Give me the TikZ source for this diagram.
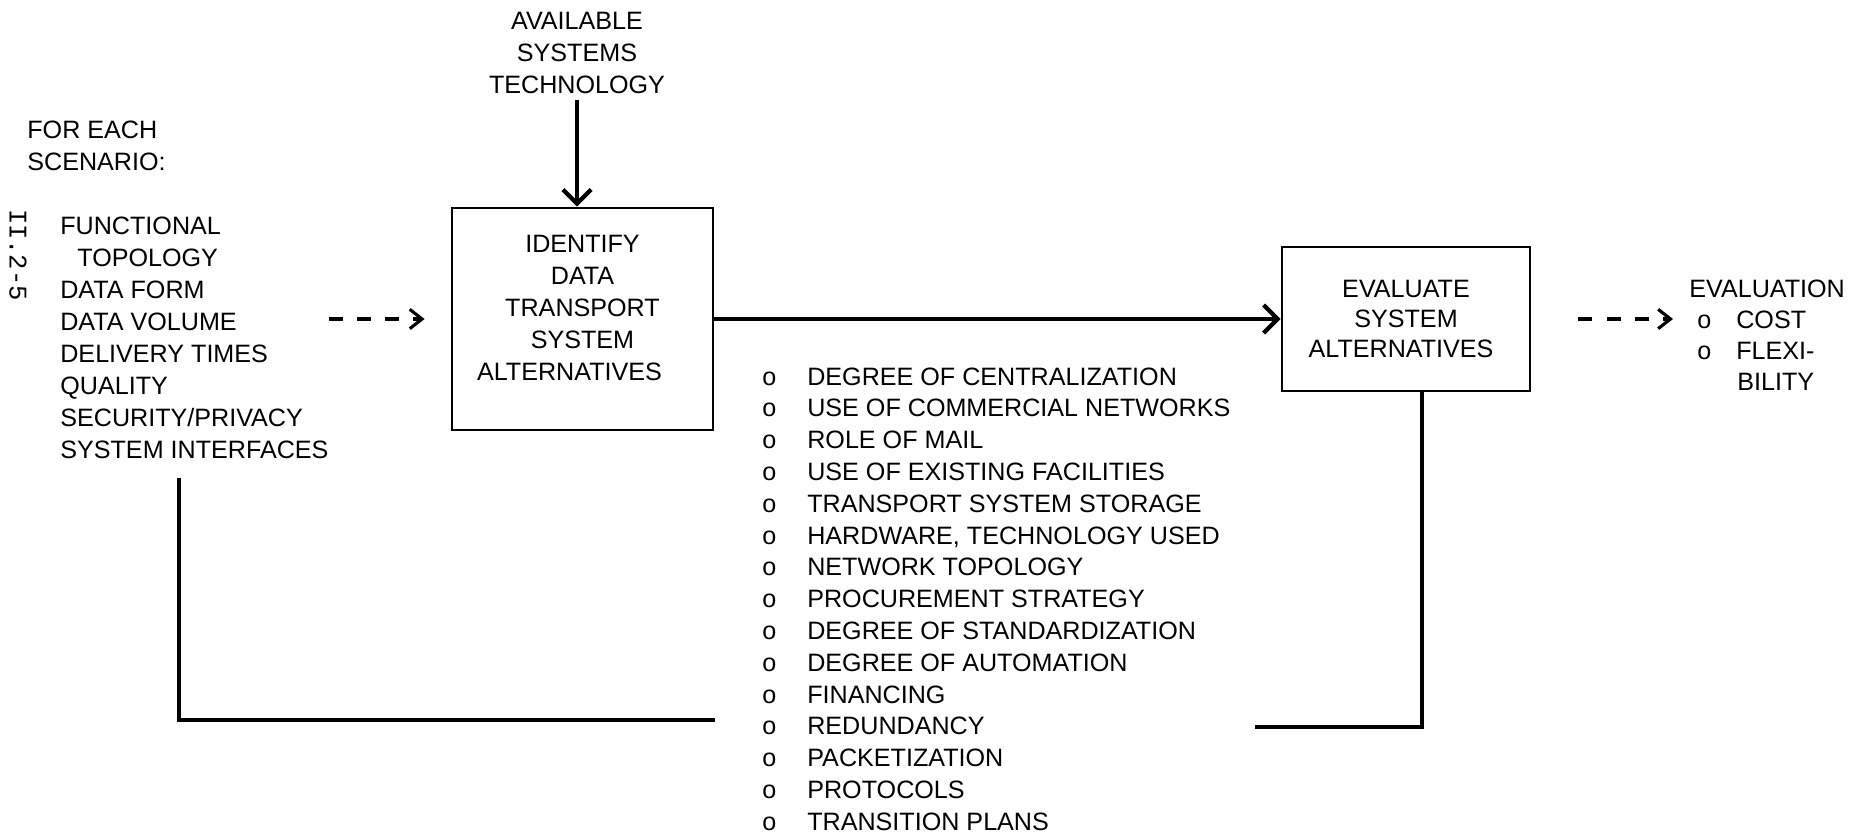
\documentclass[tikz,border=0pt]{standalone}
\usepackage{fontspec}
\setmainfont{Liberation Sans}
\newfontfamily\typefont{Liberation Mono}
\usetikzlibrary{arrows.meta,positioning,calc}

\newcommand{\optbul}{o\hspace{0.62cm}}

\begin{document}
\begin{tikzpicture}[
  font=\fontsize{14.3pt}{18.2pt}\selectfont,
  stepbox/.style={draw, line width=1.6pt, align=center},
  txt/.style={align=left, inner sep=0pt, anchor=west},
  arr/.style={-{Straight Barb[length=8pt,width=16pt]}, line width=2.4pt},
  dasharr/.style={-{Straight Barb[length=7pt,width=11pt]}, line width=1.8pt,
                  dash pattern=on 8pt off 8pt},
  fback/.style={line width=2.6pt}
]
  \useasboundingbox (0,0) rectangle (37.48,-16.78);

  % the two process boxes
  \node[align=center] (avail) at (11.54,-1.06) {AVAILABLE\\SYSTEMS\\TECHNOLOGY};
  \node[stepbox, minimum width=5.22cm, minimum height=4.44cm, text depth=0.46cm] (idbox) at (11.65,-6.38)
       {IDENTIFY\\DATA\\TRANSPORT\\SYSTEM\\ALTERNATIVES\hspace*{0.52cm}};
  \node[stepbox, minimum width=4.96cm, minimum height=2.88cm,
        font=\fontsize{14.3pt}{17pt}\selectfont] (evbox) at (28.12,-6.38)
       {EVALUATE\\SYSTEM\\ALTERNATIVES\hspace*{0.2cm}};

  % inputs on the left
  \node[txt] (scen) at (0.54,-2.92) {FOR EACH\\SCENARIO:};
  \node[txt] (need) at (1.2,-6.75)
       {FUNCTIONAL\\\hspace*{0.34cm}TOPOLOGY\\DATA FORM\\DATA VOLUME\\DELIVERY TIMES\\
        QUALITY\\SECURITY/PRIVACY\\SYSTEM INTERFACES};
  \node[txt, rotate=-90, anchor=center,
        font=\typefont\fontsize{14.5pt}{16pt}\selectfont] (pgno) at (0.36,-5.1) {II.2-5};

  % options list
  \node[txt, font=\fontsize{14.3pt}{18.1pt}\selectfont] (opts) at (15.24,-11.98)
       {\optbul DEGREE OF CENTRALIZATION\\\optbul USE OF COMMERCIAL NETWORKS\\
        \optbul ROLE OF MAIL\\\optbul USE OF EXISTING FACILITIES\\
        \optbul TRANSPORT SYSTEM STORAGE\\\optbul HARDWARE, TECHNOLOGY USED\\
        \optbul NETWORK TOPOLOGY\\\optbul PROCUREMENT STRATEGY\\
        \optbul DEGREE OF STANDARDIZATION\\\optbul DEGREE OF AUTOMATION\\
        \optbul FINANCING\\\optbul REDUNDANCY\\\optbul PACKETIZATION\\
        \optbul PROTOCOLS\\\optbul TRANSITION PLANS};

  % result
  \node[txt, font=\fontsize{14.3pt}{17.7pt}\selectfont] (evres) at (33.78,-6.70)
       {EVALUATION\\\hspace*{0.16cm}o\hspace{0.5cm}COST\\
        \hspace*{0.16cm}o\hspace{0.5cm}FLEXI-\\\hspace*{0.96cm}BILITY};

  \draw[arr] (avail.south) -- (avail.south |- idbox.north);
  \draw[arr] (idbox) -- (evbox);

  \coordinate (din) at (6.58,-6.38);
  \draw[dasharr] (din) -- ([xshift=-0.52cm]idbox.west);
  \draw[dasharr] ([xshift=0.94cm]evbox.east) -- ([xshift=-0.32cm]evres.west |- evbox.east);

  % feedback loop
  \coordinate (fbR) at ([xshift=0.32cm]evbox.south);
  \coordinate (fbRend) at (25.1,-14.54);
  \draw[fback] (fbR) |- (fbRend);
  \coordinate (fbLend) at (14.3,-14.4);
  \coordinate (fbLtop) at (3.58,-9.56);
  \draw[fback] (fbLend) -| (fbLtop);
\end{tikzpicture}
\end{document}
